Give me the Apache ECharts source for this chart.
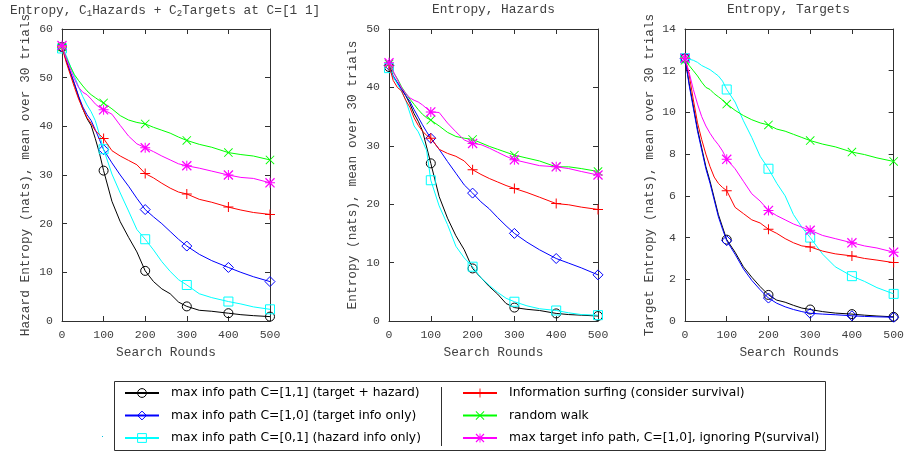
<!DOCTYPE html>
<html>
<head>
<meta charset="utf-8">
<script src="https://cdn.jsdelivr.net/npm/echarts@6/dist/echarts.min.js"></script>
<style>html,body{margin:0;padding:0;background:#fff}#c{width:907px;height:456px}</style>
</head>
<body>
<div id="c"></div>
<script>
// ---------- DATA ----------
const rounds = [0,10,20,30,40,50,60,70,80,90,100,120,140,160,180,200,220,240,260,280,300,330,360,400,430,460,500];
const xTicks = [0,100,200,300,400,500];

const seriesNames = [
  'max info path C=[1,1] (target + hazard)',
  'max info path C=[1,0] (target info only)',
  'max info path C=[0,1] (hazard info only)',
  'Information surfing (consider survival)',
  'random walk',
  'max target info path, C=[1,0], ignoring P(survival)'
];

const panelTitles = ['Entropy, C{sub|1}Hazards + C{sub|2}Targets at C=[1 1]', 'Entropy, Hazards', 'Entropy, Targets'];
const yNames = ['Hazard Entropy (nats), mean over 30 trials', 'Entropy (nats), mean over 30 trials', 'Target Entropy (nats), mean over 30 trials'];
const xName = 'Search Rounds';

// Panel 1: combined entropy
const comb_c11    = [56.3,53.6,51.0,48.6,46.0,43.6,41.6,40.2,37.5,34.5,30.9,24.6,20.4,17.2,14.2,10.3,8.1,6.6,5.6,3.9,3.0,2.2,2.0,1.6,1.3,1.1,0.9];
const comb_c10    = [56.3,53.8,51.2,48.8,46.2,44.0,42.4,41.2,39.3,37.3,35.2,32.5,30.0,27.7,25.2,22.9,21.4,20.0,18.4,16.8,15.4,13.7,12.4,11.0,10.0,9.1,8.1];
const comb_c01    = [56.0,54.6,52.4,50.3,48.1,46.1,44.4,43.0,41.2,38.3,35.3,30.2,26.3,22.6,18.8,16.8,14.6,12.2,10.2,8.5,7.4,5.6,4.8,4.0,3.5,2.9,2.4];
const comb_surf   = [56.3,53.2,50.6,48.0,45.6,43.6,41.8,40.6,39.1,38.3,37.5,35.0,33.9,33.0,32.1,30.3,29.4,28.3,27.3,26.5,26.1,25.0,24.4,23.4,22.8,22.3,21.9];
const comb_random = [56.3,54.2,52.3,50.6,49.4,48.3,47.3,46.5,45.9,45.3,44.8,43.6,42.2,41.3,40.8,40.5,39.8,39.2,38.6,37.8,37.1,36.3,35.7,34.6,34.2,33.9,33.1];
const comb_ignore = [56.6,54.0,51.8,49.7,48.0,47.0,46.5,45.6,44.6,43.9,43.4,42.5,40.2,38.0,36.4,35.6,34.8,33.9,33.1,32.3,31.9,31.4,30.8,30.0,29.5,29.3,28.4];

// Panel 2: hazard entropy
const haz_c11    = [43.5,41.8,40.8,39.8,38.6,37.2,35.5,34.2,32.6,29.8,27.0,21.3,17.6,14.6,12.2,9.0,7.4,5.9,4.6,3.0,2.3,2.0,1.8,1.3,1.1,1.0,0.85];
const haz_c10    = [43.8,42.0,40.8,39.6,38.6,37.6,36.2,34.9,33.6,32.4,31.3,29.4,27.3,25.3,23.3,21.9,20.4,19.2,17.7,16.3,15.0,13.5,12.2,10.7,9.9,9.1,7.9];
const haz_c01    = [43.3,41.8,40.6,39.3,37.8,35.6,33.4,32.4,30.8,29.2,24.1,19.7,16.5,12.8,10.8,9.3,7.4,6.1,4.9,3.9,3.3,2.6,2.1,1.8,1.4,1.1,1.0];
const haz_surf   = [43.8,41.2,40.0,39.4,37.8,36.6,34.8,33.5,32.5,31.8,31.3,29.4,28.7,28.2,27.4,25.9,25.1,24.4,23.8,23.2,22.7,22.0,21.2,20.1,19.9,19.5,19.1];
const haz_random = [44.0,42.6,41.5,40.1,39.0,38.0,37.1,36.2,35.4,34.8,34.4,33.4,32.3,31.6,31.3,31.1,30.5,29.9,29.4,28.9,28.4,27.9,27.4,26.4,26.4,26.1,25.6];
const haz_ignore = [44.2,42.8,41.3,39.9,39.0,38.2,37.8,37.5,37.0,36.4,35.8,35.7,33.9,32.4,31.0,30.4,30.2,29.6,28.9,28.2,27.6,27.1,26.6,26.4,26.1,25.6,25.0];

// Panel 3: target entropy
const tgt_c11    = [12.6,11.4,10.3,9.2,8.3,7.4,6.7,5.9,5.1,4.5,3.9,3.3,2.6,2.1,1.65,1.25,1.0,0.9,0.75,0.62,0.55,0.45,0.38,0.33,0.28,0.24,0.2];
const tgt_c10    = [12.6,11.3,10.2,9.1,8.2,7.3,6.6,5.8,5.0,4.4,3.85,3.2,2.5,1.95,1.5,1.1,0.85,0.68,0.55,0.45,0.37,0.33,0.3,0.25,0.22,0.2,0.18];
const tgt_c01    = [12.6,12.55,12.5,12.4,12.25,12.15,12.05,11.9,11.75,11.5,11.1,10.5,9.6,8.8,7.9,7.3,6.6,6.0,5.1,4.5,4.0,3.2,2.6,2.15,1.9,1.6,1.3];
const tgt_surf   = [12.6,11.8,10.6,9.5,8.7,8.0,7.4,6.9,6.6,6.4,6.25,5.45,5.15,4.85,4.7,4.4,4.2,3.95,3.75,3.6,3.55,3.35,3.22,3.12,3.0,2.92,2.8];
const tgt_random = [12.5,12.25,12.0,11.75,11.45,11.2,11.1,10.9,10.75,10.6,10.4,10.1,9.85,9.65,9.5,9.4,9.2,9.1,8.95,8.8,8.65,8.48,8.35,8.1,7.98,7.82,7.65];
const tgt_ignore = [12.6,11.9,11.1,10.4,9.8,9.35,9.0,8.7,8.45,8.15,7.75,7.3,6.7,6.1,5.75,5.3,5.05,4.85,4.65,4.5,4.35,4.1,3.95,3.75,3.6,3.5,3.3];

const yMaxes = [60, 50, 14];
const yIntervals = [10, 10, 2];

// ---------- STYLE / LAYOUT ----------
const panelData = [
  [comb_c11, comb_c10, comb_c01, comb_surf, comb_random, comb_ignore],
  [haz_c11, haz_c10, haz_c01, haz_surf, haz_random, haz_ignore],
  [tgt_c11, tgt_c10, tgt_c01, tgt_surf, tgt_random, tgt_ignore]
];
const grids = [
  {left: 62, top: 29, width: 208, height: 292},
  {left: 389, top: 29, width: 209, height: 292},
  {left: 685, top: 29, width: 209, height: 292}
];
const titleLefts = [10, 432, 727];
const yNameGaps = [30, 30, 29];

const colors = ['#000000', '#0000ff', '#00ffff', '#ff0000', '#00ff00', '#ff00ff'];
const PLUS = 'path://M4.5,0H5.5V10H4.5Z M0,4.5H10V5.5H0Z';
const CROSS = 'path://M0,0.7L0.7,0L10,9.3L9.3,10Z M9.3,0L10,0.7L0.7,10L0,9.3Z';
const STAR = 'path://M4.5,0H5.5V10H4.5Z M0,4.5H10V5.5H0Z M0,0.9L0.9,0L10,9.1L9.1,10Z M9.1,0L10,0.9L0.9,10L0,9.1Z';
const symbols = ['circle', 'diamond', 'rect', PLUS, CROSS, STAR];
const hollow = [true, true, true, false, false, false];
const symSizes = [9, 10, 9, 10, 9, 10];

const MONO = "'Liberation Mono', 'DejaVu Sans Mono', monospace";
const GREY = '#404040';
const FRAME = '#303030';
const legendText = {fontFamily: "'DejaVu Sans'", fontSize: 12.3, color: '#000', lineHeight: 14, padding: [0, 0, 0, 7]};

const option = {
  animation: false,
  backgroundColor: '#fff',
  title: [], grid: [], xAxis: [], yAxis: [], series: [],
  legend: [
    {
      data: seriesNames.slice(0, 3), orient: 'vertical', left: 124, top: 386, padding: 0,
      itemWidth: 34, itemHeight: 11, itemGap: 8.5,
      itemStyle: {borderWidth: 1},
      textStyle: legendText
    },
    {
      data: seriesNames.slice(3), orient: 'vertical', left: 462, top: 386, padding: 0,
      itemWidth: 34, itemHeight: 11, itemGap: 8.5,
      itemStyle: {borderWidth: 0},
      textStyle: legendText
    }
  ],
  graphic: [
    {type: 'rect', shape: {x: 114.5, y: 381.5, width: 711, height: 69}, style: {fill: 'none', stroke: '#303030', lineWidth: 1}, silent: true},
    {type: 'line', shape: {x1: 441.5, y1: 387, x2: 441.5, y2: 446}, style: {stroke: '#303030', lineWidth: 1}, silent: true},
    {type: 'rect', shape: {x: 102, y: 436, width: 1, height: 1}, style: {fill: '#00c0e0'}, silent: true}
  ]
};

for (let p = 0; p < 3; p++) {
  option.grid.push(Object.assign({containLabel: false}, grids[p]));
  option.title.push({
    text: panelTitles[p], left: titleLefts[p], top: 3, padding: 0,
    textStyle: {fontFamily: MONO, fontSize: 12.8, fontWeight: 'normal', color: GREY,
      rich: {sub: {fontFamily: MONO, fontSize: 9, color: GREY, verticalAlign: 'bottom', padding: [6, 0, 0, 0]}}}
  });
  const baseX = {
    type: 'value', gridIndex: p, min: 0, max: 500, interval: 100,
    splitLine: {show: false},
    axisLine: {show: true, onZero: false, lineStyle: {color: FRAME, width: 1}},
    axisTick: {show: true, inside: true, length: 5, lineStyle: {color: FRAME}}
  };
  option.xAxis.push(Object.assign({}, baseX, {
    position: 'bottom',
    axisLabel: {color: GREY, fontFamily: MONO, fontSize: 11.5, margin: 8},
    name: xName, nameLocation: 'middle', nameGap: 25,
    nameTextStyle: {color: GREY, fontFamily: MONO, fontSize: 12.8}
  }));
  option.xAxis.push(Object.assign({}, baseX, {position: 'top', axisLabel: {show: false}}));
  const baseY = {
    type: 'value', gridIndex: p, min: 0, max: yMaxes[p], interval: yIntervals[p],
    splitLine: {show: false},
    axisLine: {show: true, onZero: false, lineStyle: {color: FRAME, width: 1}},
    axisTick: {show: true, inside: true, length: 5, lineStyle: {color: FRAME}}
  };
  option.yAxis.push(Object.assign({}, baseY, {
    position: 'left',
    axisLabel: {color: GREY, fontFamily: MONO, fontSize: 11.5, margin: 9},
    name: yNames[p], nameLocation: 'middle', nameGap: yNameGaps[p], nameRotate: 90,
    nameTextStyle: {color: GREY, fontFamily: MONO, fontSize: 12.8}
  }));
  option.yAxis.push(Object.assign({}, baseY, {position: 'right', axisLabel: {show: false}}));

  for (let s = 0; s < 6; s++) {
    const vals = panelData[p][s];
    const pts = rounds.map((r, i) => [r, vals[i]]);
    const itemStyle = hollow[s]
      ? {color: 'rgba(255,255,255,0)', borderColor: colors[s], borderWidth: 1}
      : {color: colors[s], borderWidth: 0};
    option.series.push({
      type: 'line', name: seriesNames[s],
      xAxisIndex: 2 * p, yAxisIndex: 2 * p,
      data: pts,
      symbol: symbols[s],
      showAllSymbol: true,
      symbolSize: (v) => (xTicks.indexOf(v[0]) >= 0 ? symSizes[s] : 0),
      lineStyle: {color: colors[s], width: 1},
      itemStyle: itemStyle,
      emphasis: {disabled: true},
      z: 2 + s
    });
  }
}

const chart = echarts.init(document.getElementById('c'), null, {renderer: 'canvas'});
chart.setOption(option);
</script>
</body>
</html>
